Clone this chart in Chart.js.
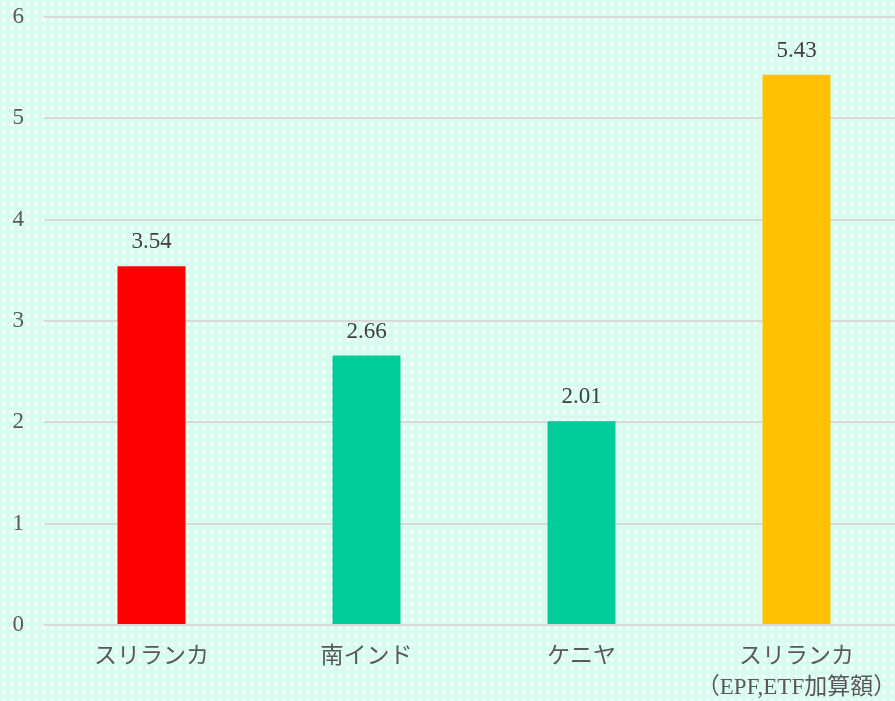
<!DOCTYPE html>
<html>
<head>
<meta charset="utf-8">
<title>Chart</title>
<script src="https://cdn.jsdelivr.net/npm/chart.js@4.4.1/dist/chart.umd.min.js"></script>
<style>
  html, body { margin: 0; padding: 0; overflow: hidden; }
  body {
    width: 895px; height: 701px;
    background-color: #d8fcef;
    background-image: radial-gradient(circle, #ffffff 1.3px, transparent 1.9px);
    background-size: 8px 8px;
  }
  #wrap { position: relative; width: 904px; height: 701px; }
</style>
</head>
<body>
<div id="wrap"><canvas id="chart"></canvas></div>
<script>
const categories = [
  'スリランカ',
  '南インド',
  'ケニヤ',
  ['スリランカ', '（EPF,ETF加算額）']
];
const values = [3.54, 2.66, 2.01, 5.43];
const barColors = ['#ff0000', '#00cc99', '#00cc99', '#ffc000'];
const yTicks = [0, 1, 2, 3, 4, 5, 6];

const fontFamily = "'Liberation Serif', 'Noto Sans CJK JP', serif";

// value labels above each bar
const valueLabels = {
  id: 'valueLabels',
  afterDatasetsDraw(chart) {
    const ctx = chart.ctx;
    const meta = chart.getDatasetMeta(0);
    ctx.save();
    ctx.font = '23px ' + fontFamily;
    ctx.fillStyle = '#404040';
    ctx.textAlign = 'center';
    ctx.textBaseline = 'middle';
    meta.data.forEach((bar, i) => {
      ctx.fillText(values[i].toFixed(2), bar.x, bar.y - 24);
    });
    ctx.restore();
  }
};

new Chart('chart', {
  type: 'bar',
  data: {
    labels: categories,
    datasets: [{
      data: values,
      backgroundColor: barColors,
      categoryPercentage: 1,
      barPercentage: 0.316
    }]
  },
  options: {
    responsive: true,
    maintainAspectRatio: false,
    animation: false,
    layout: { padding: { left: 10, top: 17, right: 0, bottom: 0 } },
    plugins: { legend: { display: false }, tooltip: { enabled: false } },
    scales: {
      x: {
        grid: { display: false, drawTicks: false },
        border: { display: false },
        ticks: {
          color: '#595959',
          font: { family: fontFamily, size: 23, lineHeight: 1.35 },
          padding: 16,
          maxRotation: 0,
          autoSkip: false
        },
        afterFit(axis) {
          axis.height = 76;
          axis.paddingLeft = 0;
          axis.paddingRight = 0;
        }
      },
      y: {
        min: 0,
        max: 6,
        afterBuildTicks(axis) { axis.ticks = yTicks.map(v => ({ value: v })); },
        grid: { color: '#d9d9d9', lineWidth: 2, drawTicks: false },
        border: { display: false },
        ticks: {
          color: '#595959',
          font: { family: fontFamily, size: 23 },
          padding: 20
        },
        afterFit(axis) {
          axis.width = 34;
          axis.paddingTop = 0;
          axis.paddingBottom = 0;
        }
      }
    }
  },
  plugins: [valueLabels]
});
</script>
</body>
</html>
